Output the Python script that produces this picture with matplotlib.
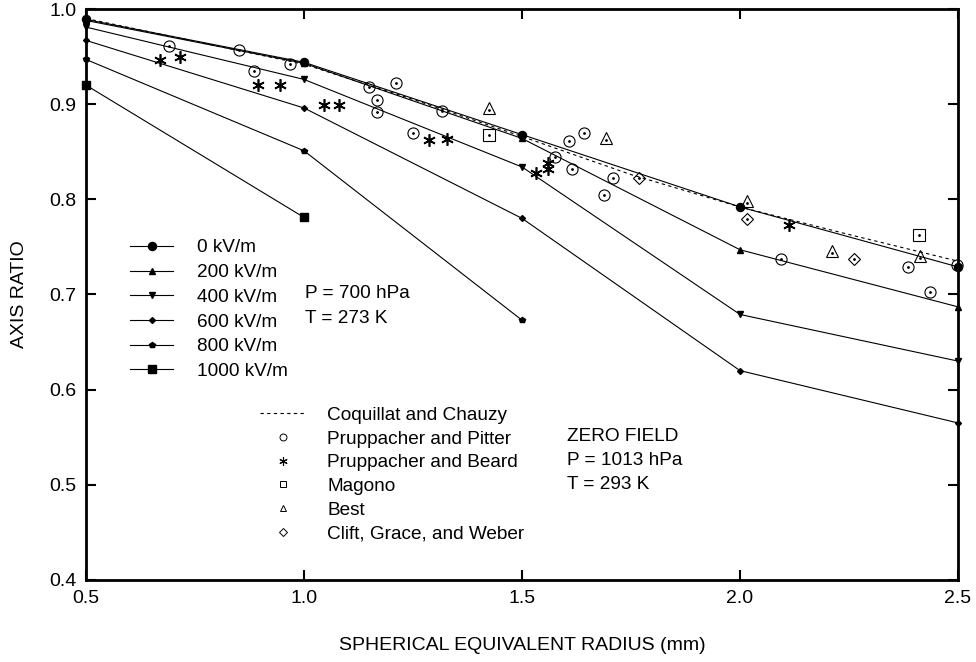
import matplotlib
matplotlib.use('Agg')
import matplotlib.pyplot as plt
from matplotlib.lines import Line2D

plt.rcParams['font.family'] = ['Liberation Sans', 'DejaVu Sans']

# model curves: axis ratio vs equivalent radius for several field strengths
radius = [0.5, 1.0, 1.5, 2.0, 2.5]
fields = ['0 kV/m', '200 kV/m', '400 kV/m', '600 kV/m', '800 kV/m', '1000 kV/m']
ratio_0 = [0.989, 0.944, 0.868, 0.792, 0.729]
ratio_200 = [0.988, 0.943, 0.864, 0.747, 0.687]
ratio_400 = [0.981, 0.926, 0.834, 0.679, 0.630]
ratio_600 = [0.967, 0.896, 0.780, 0.620, 0.565]
ratio_800 = [0.947, 0.851, 0.673]
ratio_1000 = [0.920, 0.781]
field_markers = ['o', '^', 'v', 'D', 'p', 's']
field_msize = [5.8, 4.0, 4.0, 3.0, 3.8, 5.8]

# Coquillat and Chauzy (zero field)
cc_x = [0.5, 0.75, 1.0, 1.25, 1.5, 1.75, 2.0, 2.25, 2.5]
cc_y = [0.990, 0.966, 0.942, 0.905, 0.866, 0.826, 0.792, 0.763, 0.735]

# laboratory data (zero field)
pp_x = [0.690, 0.850, 0.886, 0.968, 1.148, 1.167, 1.167, 1.212, 1.251, 1.317,
        1.608, 1.642, 1.576, 1.615, 1.708, 1.687, 2.093, 2.386, 2.436, 2.497]
pp_y = [0.961, 0.957, 0.935, 0.942, 0.918, 0.904, 0.892, 0.922, 0.870, 0.893,
        0.861, 0.870, 0.844, 0.832, 0.822, 0.805, 0.737, 0.729, 0.703, 0.731]
pb_x = [0.670, 0.716, 0.894, 0.944, 1.047, 1.080, 1.287, 1.327, 1.531, 1.559, 1.559, 2.113]
pb_y = [0.946, 0.950, 0.920, 0.920, 0.899, 0.899, 0.862, 0.863, 0.828, 0.832, 0.838, 0.773]
mg_x = [1.424, 2.411]
mg_y = [0.868, 0.763]
best_x = [1.424, 1.692, 2.017, 2.212, 2.413]
best_y = [0.896, 0.864, 0.798, 0.746, 0.740]
cgw_x = [1.769, 2.015, 2.261]
cgw_y = [0.822, 0.779, 0.737]

FS = 13.7

fig = plt.figure(figsize=(9.76, 6.62), dpi=100)
ax = fig.add_axes([0.0881, 0.1239, 0.8935, 0.8625])

series = [ratio_0, ratio_200, ratio_400, ratio_600, ratio_800, ratio_1000]
h1 = []
for lab, ys, mk, ms in zip(fields, series, field_markers, field_msize):
    ln, = ax.plot(radius[:len(ys)], ys, color='black', lw=0.8, marker=mk, ms=ms,
                  mfc='black', mec='black', clip_on=False, zorder=3, label=lab)
    h1.append(ln)

cc, = ax.plot(cc_x, cc_y, color='black', lw=0.8, dashes=(3, 3), zorder=2)

dot = dict(ls='none', marker='.', ms=2.0, color='black', clip_on=False, zorder=4)
ax.plot(pp_x, pp_y, ls='none', marker='o', ms=8, mfc='none', mec='black', mew=0.8, clip_on=False, zorder=4)
ax.plot(pp_x, pp_y, **dot)
ax.plot(pb_x, pb_y, ls='none', marker=(6, 2, 0), ms=9, mec='black', mew=1.2, zorder=4)
ax.plot(mg_x, mg_y, ls='none', marker='s', ms=8, mfc='none', mec='black', mew=0.8, zorder=4)
ax.plot(mg_x, mg_y, **dot)
ax.plot(best_x, best_y, ls='none', marker='^', ms=8, mfc='none', mec='black', mew=0.8, zorder=4)
ax.plot(best_x, [v - 0.002 for v in best_y], **dot)
ax.plot(cgw_x, cgw_y, ls='none', marker='D', ms=6, mfc='none', mec='black', mew=0.8, zorder=4)
ax.plot(cgw_x, cgw_y, **dot)

ax.set_xlim(0.5, 2.5)
ax.set_ylim(0.4, 1.0)
ax.set_xticks([0.5, 1.0, 1.5, 2.0, 2.5])
ax.set_yticks([0.4, 0.5, 0.6, 0.7, 0.8, 0.9, 1.0])
ax.set_xticklabels(['0.5', '1.0', '1.5', '2.0', '2.5'])
ax.set_yticklabels(['0.4', '0.5', '0.6', '0.7', '0.8', '0.9', '1.0'])
ax.tick_params(direction='in', length=7, width=1.5, top=True, right=True, labelsize=14, pad=7)
for s in ax.spines.values():
    s.set_linewidth(2.0)
ax.set_xlabel('SPHERICAL EQUIVALENT RADIUS (mm)', fontsize=14, labelpad=22)
ax.set_ylabel('AXIS RATIO', fontsize=14, labelpad=15)

leg1 = ax.legend(handles=h1, loc='upper left', bbox_to_anchor=(0.0505, 0.597), frameon=False,
                 fontsize=FS, handlelength=2.26, handletextpad=1.26, labelspacing=0.39,
                 borderpad=0, borderaxespad=0, numpoints=1)
ax.add_artist(leg1)

mk = lambda m, s: Line2D([], [], ls='none', marker=m, ms=s, mfc='none', mec='black', mew=0.7, color='black')
h2 = [Line2D([], [], color='black', lw=0.8, dashes=(3, 3)),
      mk('o', 5), Line2D([], [], ls='none', marker=(6, 2, 0), ms=6, mec='black', mew=0.8),
      mk('s', 5), mk('^', 5), mk('D', 4)]
l2 = ['Coquillat and Chauzy', 'Pruppacher and Pitter', 'Pruppacher and Beard',
      'Magono', 'Best', 'Clift, Grace, and Weber']
ax.legend(handles=h2, labels=l2, loc='upper left', bbox_to_anchor=(0.1995, 0.304), frameon=False,
          fontsize=FS, handlelength=2.37, handletextpad=1.16, labelspacing=0.34,
          borderpad=0, borderaxespad=0, numpoints=1)

ax.text(1.002, 0.7006, 'P = 700 hPa', fontsize=FS, va='center')
ax.text(1.002, 0.675, 'T = 273 K', fontsize=FS, va='center')
ax.text(1.603, 0.5504, 'ZERO FIELD', fontsize=FS, va='center')
ax.text(1.603, 0.5252, 'P = 1013 hPa', fontsize=FS, va='center')
ax.text(1.603, 0.500, 'T = 293 K', fontsize=FS, va='center')

fig.savefig('out.png', dpi=100)
